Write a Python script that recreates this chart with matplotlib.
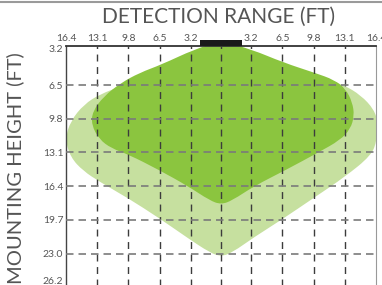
import matplotlib
matplotlib.use("Agg")
import matplotlib.pyplot as plt
from matplotlib.path import Path
from matplotlib.patches import PathPatch, Rectangle
from matplotlib.lines import Line2D

plt.rcParams['font.family'] = ['Lato', 'DejaVu Sans']

# ----------------------------
# DATA
# ----------------------------
range_ticks = [-16.4, -13.1, -9.8, -6.5, -3.2, 0, 3.2, 6.5, 9.8, 13.1, 16.4]
range_labels = ["16.4", "13.1", "9.8", "6.5", "3.2", "", "3.2", "6.5", "9.8", "13.1", "16.4"]
height_labels = ["3.2", "6.5", "9.8", "13.1", "16.4", "19.7", "23.0", "26.2"]
# the two end labels sit just inside the frame
height_label_pos = [2.9, 6.5, 9.8, 13.1, 16.4, 19.7, 23.0, 25.6]
grid_x = [-13.1, -9.8, -6.5, -3.2, 0, 3.2, 6.5, 9.8, 13.1]
grid_y = [6.5, 9.8, 13.1, 16.4, 19.7, 23.0]

# outer (light) zone outline, (range ft, height ft)
outer_x = [0, -6.0, -10.5, -12.8, -14.5, -15.9, -16.5, -15.9, -14.6, -12.8, -9.8, -6.6,
           -3.5, -1.2, 0, 1.2, 3.5, 6.4, 9.9, 13.1, 15.9, 16.5, 16.6, 16.2, 14.8, 13.0, 10.0, 6.0]
outer_y = [4.5, 5.5, 6.6, 7.4, 8.4, 10.0, 11.8, 13.6, 14.9, 16.0, 17.6, 19.5,
           21.5, 22.9, 23.3, 22.9, 21.4, 19.7, 17.5, 15.5, 13.4, 11.9, 10.2, 8.9, 7.5, 6.5, 5.5, 5.0]

# inner (dark) zone outline
inner_x = [0, -2.8, -6.3, -8.6, -10.6, -12.4, -13.6, -13.7, -12.9, -11.6, -9.8, -6.6,
           -3.5, -1.2, 0, 1.2, 3.5, 6.9, 10.3, 12.6, 13.7, 14.1, 13.9, 13.2, 12.0, 9.9, 6.6, 3.2]
inner_y = [2.2, 3.0, 4.5, 5.3, 6.3, 7.6, 9.1, 10.4, 11.8, 12.7, 13.3, 14.8,
           16.4, 17.8, 18.2, 17.8, 16.4, 14.8, 13.1, 11.9, 10.8, 9.5, 8.2, 6.9, 6.0, 5.3, 4.3, 3.0]


def smooth_shape(xs, ys):
    # closed quadratic curve through the midpoints of the outline points
    pts = list(zip(xs, ys))
    n = len(pts)
    mids = [((pts[i][0] + pts[(i + 1) % n][0]) / 2, (pts[i][1] + pts[(i + 1) % n][1]) / 2)
            for i in range(n)]
    verts = [mids[-1]]
    codes = [Path.MOVETO]
    for i in range(n):
        verts += [pts[i], mids[i]]
        codes += [Path.CURVE3, Path.CURVE3]
    verts.append(mids[-1])
    codes.append(Path.CLOSEPOLY)
    return Path(verts, codes)


W, H = 382, 285
fig = plt.figure(figsize=(W / 100, H / 100), dpi=100)
ax = fig.add_axes([66 / W, -1.2 / H, (376 - 66) / W, (286.2 - 46) / H])

ax.set_xlim(-16.4, 16.4)
ax.set_ylim(26.2, 2.68)

ax.add_patch(PathPatch(smooth_shape(outer_x, outer_y), facecolor="#c6e09f", edgecolor="none", zorder=1))
ax.add_patch(PathPatch(smooth_shape(inner_x, inner_y), facecolor="#8bc53f", edgecolor="none", zorder=2))

for gx in grid_x:
    ax.axvline(gx, color="#3c3c3c", lw=1.0, dashes=(5, 4), zorder=3)
for gy in grid_y:
    ax.axhline(gy, color="#7a7a7a", lw=1.2, dashes=(4.5, 3), zorder=3)

# sensor bar on top
ax.add_patch(Rectangle((-2.2, 2.05), 4.4, 0.65, facecolor="#1a1a1a", edgecolor="none",
                       clip_on=False, zorder=5))

ax.xaxis.tick_top()
ax.set_xticks(range_ticks)
ax.set_xticklabels(range_labels)
ax.set_yticks(height_label_pos)
ax.set_yticklabels(height_labels)
ax.tick_params(length=0, labelsize=7.5, colors="#555555", pad=2)

ax.spines["top"].set_color("#333333")
ax.spines["top"].set_linewidth(1.3)
ax.spines["left"].set_color("#444444")
ax.spines["left"].set_linewidth(1.0)
ax.spines["right"].set_color("#999999")
ax.spines["right"].set_linewidth(0.8)
ax.spines["bottom"].set_visible(False)

fig.text(219 / W, 1 - 17 / H, "DETECTION RANGE (FT)", ha="center", va="center",
         fontsize=15, color="#555555")
fig.text(15 / W, 1 - 168 / H, "MOUNTING HEIGHT (FT)", ha="center", va="center",
         rotation=90, fontsize=14.5, color="#555555")

fig.add_artist(Line2D([0, 1], [1 - 1.5 / H, 1 - 1.5 / H], color="#9a9a9a", lw=1.5,
                      transform=fig.transFigure))

fig.savefig("out.png", dpi=100)
